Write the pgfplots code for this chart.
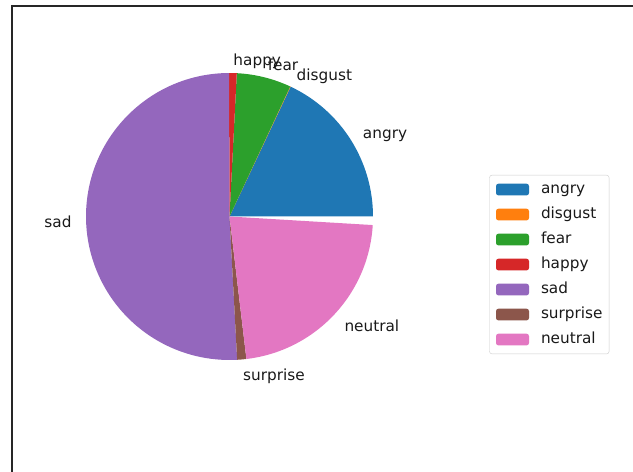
\documentclass[border=0pt]{standalone}
\usepackage{pgfplots}
\pgfplotsset{compat=1.18}
\usepackage{pgfplotstable}
\usepackage{fontspec}
\setmainfont{DejaVu Sans}

\definecolor{cA}{HTML}{1F77B4}
\definecolor{cB}{HTML}{FF7F0E}
\definecolor{cC}{HTML}{2CA02C}
\definecolor{cD}{HTML}{D62728}
\definecolor{cE}{HTML}{9467BD}
\definecolor{cF}{HTML}{8C564B}
\definecolor{cG}{HTML}{E377C2}

% fractions of the whole (they sum to a little less than 1, so the pie is not closed)
\pgfplotstableread{
label value
angry 0.1800
disgust 0.0005
fear 0.0614
happy 0.0086
sad 0.5080
surprise 0.0103
neutral 0.2217
}\datatable

\def\R{143.5}
\xdef\cumang{0}
\pgfplotsforeachungrouped \i in {0,...,6}{%
  \pgfplotstablegetelem{\i}{value}\of\datatable
  \pgfmathsetmacro\tmpa{\cumang}%
  \pgfmathsetmacro\tmpb{\cumang+360*\pgfplotsretval}%
  \pgfmathsetmacro\tmpm{(\tmpa+\tmpb)/2}%
  \pgfmathsetmacro\tmpx{1.1*\R*cos(\tmpm)}%
  \pgfmathsetmacro\tmpy{1.1*\R*sin(\tmpm)}%
  \expandafter\xdef\csname sa\i\endcsname{\tmpa}%
  \expandafter\xdef\csname ea\i\endcsname{\tmpb}%
  \expandafter\xdef\csname lx\i\endcsname{\tmpx}%
  \expandafter\xdef\csname ly\i\endcsname{\tmpy}%
  \ifdim\tmpx pt>0pt
    \expandafter\xdef\csname an\i\endcsname{west}%
  \else
    \expandafter\xdef\csname an\i\endcsname{east}%
  \fi
  \xdef\cumang{\tmpb}%
}

\newcommand\piewedge[3]{% index, colour, label
  \fill[#2] (axis cs:0,0) -- (axis cs:{\R*cos(\csname sa#1\endcsname)},{\R*sin(\csname sa#1\endcsname)})
    arc[start angle=\csname sa#1\endcsname, end angle=\csname ea#1\endcsname, radius=\R pt] -- cycle;
  \node[anchor=\csname an#1\endcsname, inner sep=0pt, text height=11.6pt, text depth=3.7pt,
        text=black!90, yshift=-3pt]
    at (axis cs:\csname lx#1\endcsname,\csname ly#1\endcsname) {#3};
}

\begin{document}
\begin{tikzpicture}[font=\fontsize{15.3}{18.4}\selectfont]
\begin{axis}[
  x=1pt, y=1pt,
  xmin=-229.5, xmax=403.5, ymin=-255.5, ymax=216.5,
  hide axis, clip=false,
  legend cell align=left,
  legend image code/.code={\fill[#1, draw=none] (0pt,-5.9pt) rectangle (33pt,5.9pt);},
  legend style={
    at={(axis cs:259.8,41.5)}, anchor=north west,
    draw=black!20, rounded corners=2.5pt, fill=white,
    font=\fontsize{15.3}{18.4}\selectfont, text=black!90,
    inner xsep=6.5pt, inner ysep=6.7pt,
    row sep=9.7pt,
    nodes={inner sep=0pt, text height=11.6pt, text depth=3.7pt},
    /tikz/every odd column/.append style={column sep=12pt},
  },
]
\addlegendimage{fill=cA}\addlegendentry{angry}
\addlegendimage{fill=cB}\addlegendentry{disgust}
\addlegendimage{fill=cC}\addlegendentry{fear}
\addlegendimage{fill=cD}\addlegendentry{happy}
\addlegendimage{fill=cE}\addlegendentry{sad}
\addlegendimage{fill=cF}\addlegendentry{surprise}
\addlegendimage{fill=cG}\addlegendentry{neutral}

\piewedge{0}{cA}{angry}
\piewedge{1}{cB}{disgust}
\piewedge{2}{cC}{fear}
\piewedge{3}{cD}{happy}
\piewedge{4}{cE}{sad}
\piewedge{5}{cF}{surprise}
\piewedge{6}{cG}{neutral}

% frame of the screenshot
\draw[line width=2pt, black!85] (axis cs:{11-229.5},{216.5-6}) -- (axis cs:{633-229.5},{216.5-6});
\draw[line width=2pt, black!85] (axis cs:{12-229.5},{216.5-5}) -- (axis cs:{12-229.5},{216.5-472});

\coordinate (BL) at (axis cs:-229.5,-255.5);
\coordinate (TR) at (axis cs:403.5,216.5);
\end{axis}
\pgfresetboundingbox
\path[use as bounding box] (BL) rectangle (TR);
\end{tikzpicture}
\end{document}
